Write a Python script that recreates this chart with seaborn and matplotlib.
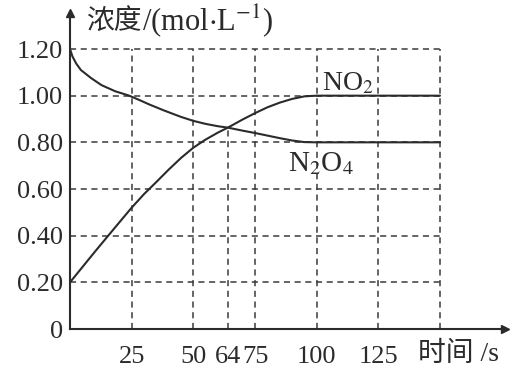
import numpy as np
import pandas as pd
import seaborn as sns
import matplotlib.pyplot as plt

# values
t_no2 = [0, 5, 10, 15.5, 20, 25, 30, 35, 40, 45, 50, 55, 60, 64, 70, 75, 80, 85, 90, 95, 100, 125, 150]
no2 = [0.20, 0.265, 0.33, 0.40, 0.457, 0.52, 0.578, 0.63, 0.683, 0.733, 0.777, 0.812, 0.842,
       0.863, 0.898, 0.925, 0.950, 0.970, 0.986, 0.997, 1.00, 1.00, 1.00]

t_n2o4 = [0, 1, 2.5, 4.4, 8.6, 12.8, 18.3, 24, 28, 32, 38, 45, 50, 55, 60, 64, 70, 75, 80,
          85, 90, 95, 100, 125, 150]
n2o4 = [1.20, 1.168, 1.138, 1.11, 1.075, 1.045, 1.019, 1.00, 0.982, 0.963, 0.937, 0.909, 0.892,
        0.879, 0.869, 0.863, 0.85, 0.84, 0.829, 0.818, 0.808, 0.801, 0.80, 0.80, 0.80]

x_ticks = [25, 50, 64, 75, 100, 125]
x_grid = [25, 50, 75, 100, 125, 150]
y_ticks = [0, 0.20, 0.40, 0.60, 0.80, 1.00, 1.20]
y_tick_labels = ['0', '0.20', '0.40', '0.60', '0.80', '1.00', '1.20']
cross_t, cross_c = 64, 0.863

sns.set_theme(style='white')
plt.rcParams['font.family'] = ['Liberation Serif', 'Noto Sans CJK SC', 'DejaVu Sans']
plt.rcParams['mathtext.fontset'] = 'stix'

ink = '#2b2b2b'
fig = plt.figure(figsize=(5.15, 3.68), dpi=100)
ax = fig.add_axes([70 / 515, 1 - 329 / 368, 435 / 515, 316 / 368])

# dashed guide grid
dash = (0, (4, 3))
ax.hlines(y_ticks[1:], 0, 150, colors='#3a3a3a', linewidth=1.1, linestyles=dash)
ax.vlines(x_grid, 0, 1.2, colors='#3a3a3a', linewidth=1.1, linestyles=dash)
ax.vlines([cross_t], 0, cross_c, colors='#3a3a3a', linewidth=1.1, linestyles=dash)

sns.lineplot(x=t_n2o4, y=n2o4, ax=ax, color=ink, linewidth=1.5)
sns.lineplot(x=t_no2, y=no2, ax=ax, color=ink, linewidth=1.5)

ax.set_xlim(0, 150 * 435 / 370)
ax.set_ylim(0, 1.2 * 316 / 280)
ax.set_xticks(x_ticks)
ax.set_yticks(y_ticks)
ax.set_yticklabels(y_tick_labels)
ax.tick_params(axis='both', length=0, labelsize=19, colors=ink)
ax.tick_params(axis='x', pad=12)
ax.tick_params(axis='y', pad=5)

for s in ['top', 'right']:
    ax.spines[s].set_visible(False)
for s in ['left', 'bottom']:
    ax.spines[s].set_color(ink)
    ax.spines[s].set_linewidth(1.5)
ax.plot(1, 0, '>', color=ink, markersize=6, transform=ax.transAxes, clip_on=False)
ax.plot(0, 1, '^', color=ink, markersize=6, transform=ax.transAxes, clip_on=False)

ax.text(102, 1.024, r'NO$_2$', fontsize=20, color=ink, ha='left', va='baseline')
ax.text(88.4, 0.677, r'N$_2$O$_4$', fontsize=21, color=ink, ha='left', va='baseline')

t1 = fig.text(86 / 515, 1 - 21 / 368, '浓度', fontsize=20, color=ink,
              family='Noto Sans CJK SC', ha='left', va='center')
ax.annotate(r'/(mol$\cdot$L$^{-1}$)', xy=(1, 0.5), xycoords=t1, fontsize=22,
            color=ink, ha='left', va='center')
fig.text(418 / 515, 1 - 354 / 368, '时间 /s', fontsize=20, color=ink,
         ha='left', va='center')

fig.savefig('out.png', dpi=100)
